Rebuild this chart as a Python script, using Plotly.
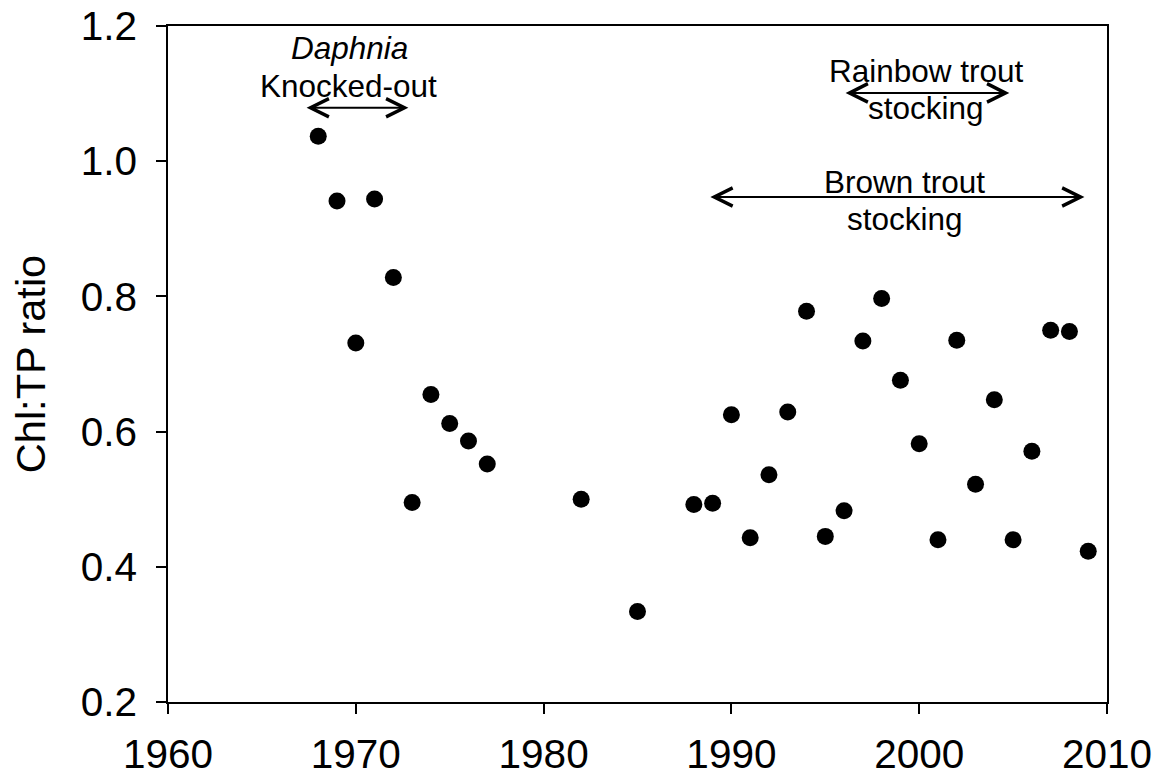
import plotly.graph_objects as go

# ---- data ----
years = [1968, 1969, 1970, 1971, 1972, 1973, 1974, 1975, 1976, 1977,
         1982, 1985,
         1988, 1989, 1990, 1991, 1992, 1993, 1994, 1995, 1996, 1997, 1998,
         1999, 2000, 2001, 2002, 2003, 2004, 2005, 2006, 2007, 2008, 2009]
chl_tp = [1.037, 0.941, 0.731, 0.944, 0.828, 0.495, 0.655, 0.612, 0.586, 0.552,
          0.500, 0.334,
          0.492, 0.494, 0.625, 0.443, 0.536, 0.629, 0.778, 0.445, 0.483, 0.734, 0.797,
          0.676, 0.582, 0.440, 0.735, 0.522, 0.647, 0.440, 0.571, 0.750, 0.748, 0.423]

x_ticks = [1960, 1970, 1980, 1990, 2000, 2010]
y_ticks = [0.2, 0.4, 0.6, 0.8, 1.0, 1.2]
y_tick_labels = ["0.2", "0.4", "0.6", "0.8", "1.0", "1.2"]

# period arrows: (start year, end year, y level)
arrow_starts = [1967.3, 1996.0, 1988.8]
arrow_ends = [1972.8, 2004.8, 2008.8]
arrow_levels = [1.079, 1.101, 0.947]

# labels: (text, x, y)
label_texts = ["<i>Daphnia</i>", "Knocked-out", "Rainbow trout", "stocking",
               "Brown trout", "stocking"]
label_x = [1969.65, 1969.6, 2000.37, 2000.35, 1999.23, 1999.23]
label_y = [1.168, 1.111, 1.133, 1.079, 0.969, 0.914]

FONT = "Liberation Sans, Arial, sans-serif"

fig = go.Figure()
fig.add_trace(go.Scatter(
    x=years, y=chl_tp, mode="markers",
    marker=dict(color="black", size=17, symbol="circle"),
    showlegend=False, cliponaxis=False,
))

for xs, xe, yl in zip(arrow_starts, arrow_ends, arrow_levels):
    fig.add_annotation(
        x=xe, y=yl, ax=xs, ay=yl, xref="x", yref="y", axref="x", ayref="y",
        text="", showarrow=True, arrowhead=5, startarrowhead=5,
        arrowside="end+start", arrowwidth=2, arrowsize=1.8, startarrowsize=1.8,
        arrowcolor="black",
    )

for t, lx, ly in zip(label_texts, label_x, label_y):
    fig.add_annotation(
        x=lx, y=ly, xref="x", yref="y", text=t, showarrow=False,
        xanchor="center", yanchor="middle",
        font=dict(family=FONT, size=31.5, color="black"),
    )

fig.update_xaxes(
    range=[1960, 2010], tickvals=x_ticks, ticktext=[str(v) for v in x_ticks],
    ticks="outside", ticklen=10, tickwidth=1.5, tickcolor="black",
    showline=True, linecolor="black", linewidth=1.5, mirror=True,
    showgrid=False, zeroline=False,
    tickfont=dict(family=FONT, size=40.5, color="black"),
    ticklabelstandoff=6,
)
fig.update_yaxes(
    range=[0.2, 1.2], tickvals=y_ticks, ticktext=y_tick_labels,
    ticks="outside", ticklen=10, tickwidth=1.5, tickcolor="black",
    showline=True, linecolor="black", linewidth=1.5, mirror=True,
    showgrid=False, zeroline=False,
    tickfont=dict(family=FONT, size=40.5, color="black"),
    ticklabelstandoff=11,
    title=dict(text="Chl:TP ratio", standoff=22,
               font=dict(family=FONT, size=41.5, color="black")),
)

fig.update_layout(
    width=1159, height=777,
    margin=dict(l=168, r=52, t=26, b=75, autoexpand=False),
    paper_bgcolor="white", plot_bgcolor="white",
    font=dict(family=FONT, color="black"),
)

# remove the browser's default 8 px body margin so the figure fills the window
fig.write_html(
    "out.html",
    config={"displayModeBar": False},
    post_script="document.body.style.margin='0px';document.body.style.overflow='hidden';",
)
